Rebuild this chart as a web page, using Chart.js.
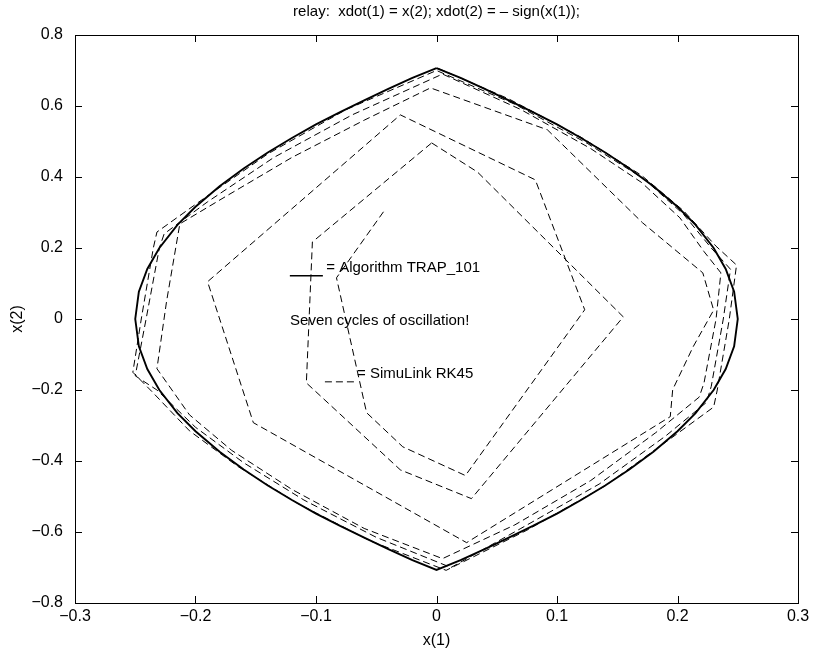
<!DOCTYPE html>
<html>
<head>
<meta charset="utf-8">
<script src="https://cdn.jsdelivr.net/npm/chart.js@4.4.1/dist/chart.umd.min.js"></script>
<style>
  html, body { margin: 0; padding: 0; background: #fff; }
</style>
</head>
<body>
<canvas id="phase" width="814" height="655"></canvas>
<script>
// ticks dos eixos
const xTicks = [-0.3, -0.2, -0.1, 0, 0.1, 0.2, 0.3];
const yTicks = [-0.8, -0.6, -0.4, -0.2, 0, 0.2, 0.4, 0.6, 0.8];

// Algorithm TRAP_101 (linha cheia)
const trapX = [0.000, 0.020, 0.040, 0.060, 0.080, 0.100, 0.120, 0.140, 0.160, 0.180, 0.200, 0.215, 0.230, 0.240, 0.247,
  0.250, 0.247, 0.240, 0.230, 0.215, 0.200, 0.180, 0.160, 0.140, 0.120, 0.100, 0.080, 0.060, 0.040, 0.020,
  0.000, -0.020, -0.040, -0.060, -0.080, -0.100, -0.120, -0.140, -0.160, -0.180, -0.200, -0.215, -0.230, -0.240, -0.247,
  -0.250, -0.247, -0.240, -0.230, -0.215, -0.200, -0.180, -0.160, -0.140, -0.120, -0.100, -0.080, -0.060, -0.040, -0.020, 0.000];
const trapY = [0.707, 0.679, 0.648, 0.616, 0.583, 0.548, 0.510, 0.469, 0.424, 0.374, 0.316, 0.265, 0.200, 0.141, 0.077,
  0.000, -0.077, -0.141, -0.200, -0.265, -0.316, -0.374, -0.424, -0.469, -0.510, -0.548, -0.583, -0.616, -0.648, -0.679,
  -0.707, -0.679, -0.648, -0.616, -0.583, -0.548, -0.510, -0.469, -0.424, -0.374, -0.316, -0.265, -0.200, -0.141, -0.077,
  0.000, 0.077, 0.141, 0.200, 0.265, 0.316, 0.374, 0.424, 0.469, 0.510, 0.548, 0.583, 0.616, 0.648, 0.679, 0.707];

// SimuLink RK45 (tracejado) - espiral
const rkX = [0.002, 0.060, 0.120, 0.170, 0.205, 0.232, 0.249, 0.243, 0.233, 0.230, 0.195, 0.140, 0.075, 0.008,
  -0.055, -0.115, -0.165, -0.205, -0.236, -0.252, -0.245, -0.235, -0.232, -0.195, -0.140, -0.075, 0.000,
  0.065, 0.125, 0.172, 0.205, 0.228, 0.244, 0.238, 0.228, 0.224, 0.190, 0.135, 0.070, 0.012,
  -0.050, -0.110, -0.160, -0.200, -0.232, -0.250, -0.241, -0.230, -0.226, -0.190, -0.135, -0.070, 0.005,
  0.070, 0.128, 0.170, 0.202, 0.222, 0.236, 0.232, 0.222, 0.218, 0.182, 0.128, 0.065, 0.005,
  -0.060, -0.120, -0.170, -0.205, -0.232, -0.224, -0.213, -0.175, -0.120, -0.060, -0.005,
  0.092, 0.171, 0.221, 0.230, 0.213, 0.196, 0.194, 0.025, -0.152, -0.190, -0.030,
  0.082, 0.123, 0.024, -0.028, -0.058, -0.083, -0.044];
const rkY = [0.705, 0.620, 0.512, 0.405, 0.305, 0.205, 0.152, 0.000, -0.200, -0.248, -0.335, -0.470, -0.595, -0.708,
  -0.625, -0.520, -0.415, -0.315, -0.205, -0.150, 0.000, 0.200, 0.245, 0.335, 0.465, 0.590, 0.700,
  0.605, 0.495, 0.395, 0.295, 0.200, 0.140, 0.000, -0.190, -0.235, -0.330, -0.465, -0.590, -0.700,
  -0.615, -0.510, -0.405, -0.305, -0.200, -0.160, 0.000, 0.200, 0.240, 0.330, 0.455, 0.575, 0.690,
  0.590, 0.480, 0.385, 0.285, 0.190, 0.130, 0.000, -0.180, -0.220, -0.320, -0.455, -0.580, -0.675,
  -0.590, -0.480, -0.370, -0.270, -0.140, 0.050, 0.268, 0.345, 0.455, 0.560, 0.651,
  0.533, 0.271, 0.130, 0.025, -0.078, -0.199, -0.275, -0.630, -0.292, 0.105, 0.575,
  0.392, 0.026, -0.441, -0.360, -0.264, 0.116, 0.302];

// laco interno do RK45
const rkLoopX = [-0.004, 0.034, 0.155, 0.029, -0.030, -0.108, -0.103, -0.004];
const rkLoopY = [0.496, 0.414, 0.006, -0.506, -0.425, -0.180, 0.217, 0.496];

const FONT = '"Liberation Sans", Arial, Helvetica, sans-serif';

function toPoints(xs, ys) {
    return xs.map((x, i) => ({ x: x, y: ys[i] }));
}

function fmtTick(v) {
    if (Math.abs(v) < 1e-9) return '0';
    const s = Math.abs(v).toFixed(1);
    return v < 0 ? '\u2212' + s : s;
}

// ticks para dentro + caixa (estilo MATLAB)
const boxPlugin = {
    id: 'box',
    afterDraw(chart) {
        const ctx = chart.ctx;
        const a = chart.chartArea;
        const sx = chart.scales.x, sy = chart.scales.y;
        const len = 7;
        ctx.save();
        ctx.strokeStyle = '#000';
        ctx.lineWidth = 1;
        ctx.beginPath();
        xTicks.forEach(v => {
            const p = Math.round(sx.getPixelForValue(v)) + 0.5;
            ctx.moveTo(p, a.bottom); ctx.lineTo(p, a.bottom - len);
            ctx.moveTo(p, a.top); ctx.lineTo(p, a.top + len);
        });
        yTicks.forEach(v => {
            const p = Math.round(sy.getPixelForValue(v)) + 0.5;
            ctx.moveTo(a.left, p); ctx.lineTo(a.left + len, p);
            ctx.moveTo(a.right, p); ctx.lineTo(a.right - len, p);
        });
        ctx.stroke();
        ctx.strokeRect(Math.round(a.left) + 0.5, Math.round(a.top) + 0.5,
            Math.round(a.right - a.left), Math.round(a.bottom - a.top));
        ctx.restore();
    }
};

// textos dentro do grafico
const notesPlugin = {
    id: 'notes',
    afterDatasetsDraw(chart) {
        const ctx = chart.ctx;
        const sx = chart.scales.x, sy = chart.scales.y;
        const px = v => sx.getPixelForValue(v);
        const py = v => sy.getPixelForValue(v);
        ctx.save();
        ctx.fillStyle = '#000';
        ctx.strokeStyle = '#000';
        ctx.font = '15px ' + FONT;
        ctx.textAlign = 'left';
        ctx.textBaseline = 'middle';

        // chave linha cheia
        ctx.lineWidth = 1.5;
        ctx.beginPath();
        ctx.moveTo(px(-0.1217), py(0.122));
        ctx.lineTo(px(-0.0943), py(0.122));
        ctx.stroke();
        ctx.fillText('= Algorithm TRAP_101', px(-0.0915), py(0.145));

        ctx.fillText('Seven cycles of oscillation!', px(-0.1215), py(-0.005));

        // chave tracejada
        ctx.lineWidth = 1;
        ctx.setLineDash([7, 4]);
        ctx.beginPath();
        ctx.moveTo(px(-0.0926), py(-0.177));
        ctx.lineTo(px(-0.0677), py(-0.177));
        ctx.stroke();
        ctx.setLineDash([]);
        ctx.fillText('= SimuLink RK45', px(-0.066), py(-0.155));
        ctx.restore();
    }
};

const ctx = document.getElementById('phase');

new Chart(ctx, {
    type: 'scatter',
    data: {
        datasets: [
            {
                label: 'SimuLink RK45',
                data: toPoints(rkX, rkY),
                showLine: true,
                borderColor: '#000',
                borderWidth: 1,
                borderDash: [7, 4],
                pointRadius: 0,
                fill: false
            },
            {
                label: 'SimuLink RK45 (laco)',
                data: toPoints(rkLoopX, rkLoopY),
                showLine: true,
                borderColor: '#000',
                borderWidth: 1,
                borderDash: [7, 4],
                pointRadius: 0,
                fill: false
            },
            {
                label: 'Algorithm TRAP_101',
                data: toPoints(trapX, trapY),
                showLine: true,
                borderColor: '#000',
                borderWidth: 1.9,
                pointRadius: 0,
                fill: false
            }
        ]
    },
    options: {
        responsive: false,
        animation: false,
        layout: { padding: { top: 0, right: 16, bottom: 0, left: 0 } },
        plugins: {
            legend: { display: false },
            tooltip: { enabled: false },
            title: {
                display: true,
                fullSize: false,
                text: 'relay:  xdot(1) = x(2); xdot(2) = \u2013 sign(x(1));',
                color: '#000',
                font: { family: FONT, size: 15, weight: 'normal' },
                padding: { top: 3, bottom: 14 }
            }
        },
        scales: {
            x: {
                type: 'linear',
                min: -0.3,
                max: 0.3,
                afterBuildTicks: s => { s.ticks = xTicks.map(v => ({ value: v })); },
                afterFit: s => { s.height = 52; },
                grid: { display: false, drawTicks: false },
                border: { display: false },
                ticks: {
                    callback: fmtTick,
                    color: '#000',
                    font: { family: FONT, size: 16 },
                    padding: 4,
                    maxRotation: 0,
                    autoSkip: false
                },
                title: {
                    display: true,
                    text: 'x(1)',
                    color: '#000',
                    font: { family: FONT, size: 16 },
                    padding: { top: 0, bottom: 5 }
                }
            },
            y: {
                type: 'linear',
                min: -0.8,
                max: 0.8,
                afterBuildTicks: s => { s.ticks = yTicks.map(v => ({ value: v })); },
                afterFit: s => { s.width = 75; },
                grid: { display: false, drawTicks: false },
                border: { display: false },
                ticks: {
                    callback: fmtTick,
                    color: '#000',
                    font: { family: FONT, size: 16 },
                    padding: 12,
                    autoSkip: false
                },
                title: {
                    display: true,
                    text: 'x(2)',
                    color: '#000',
                    font: { family: FONT, size: 16 },
                    padding: { top: 8, bottom: 0 }
                }
            }
        }
    },
    plugins: [boxPlugin, notesPlugin]
});
</script>
</body>
</html>
